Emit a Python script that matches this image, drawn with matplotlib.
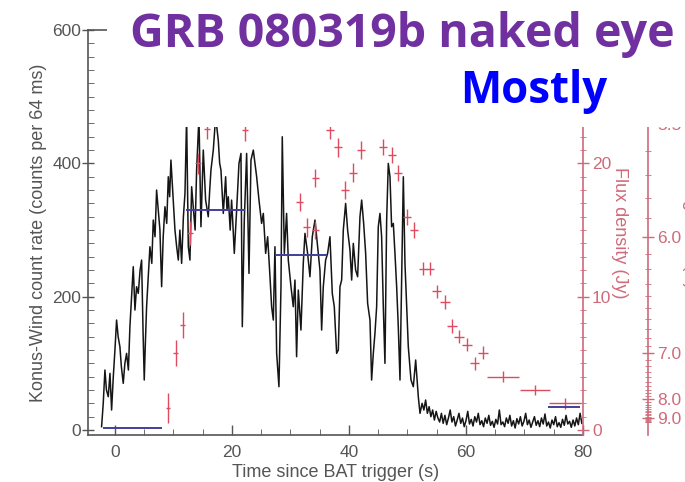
import matplotlib.pyplot as plt
from matplotlib.patches import Rectangle
from matplotlib.ticker import MultipleLocator, FixedLocator
import numpy as np

# Konus-Wind gamma-ray light curve: time since trigger (s), counts per 64 ms
kw_time = [
    -2.28, -2.0, -1.71, -1.45, -1.14, -0.85, -0.57, -0.28, 0.0, 0.28, 0.55, 0.85,
    1.1, 1.42, 1.7, 1.99, 2.3, 2.56, 2.85, 3.13, 3.42, 3.7, 3.99, 4.3, 4.56, 4.8,
    5.01, 5.2, 5.41, 5.7, 5.98, 6.3, 6.55, 6.85, 7.12, 7.4, 7.69, 7.98, 8.25, 8.55,
    8.85, 9.12, 9.35, 9.57, 9.8, 9.97,
    10.26, 10.55, 10.83, 11.1, 11.4, 11.7, 11.97, 12.25, 12.54, 12.82, 13.11, 13.39,
    13.7, 13.96, 14.36, 14.7, 15.1, 15.5, 15.95, 16.2, 16.41, 16.81, 17.21, 17.66,
    17.9, 18.12, 18.52, 18.92, 19.15, 19.37, 19.7, 19.94, 20.15, 20.4, 20.8, 21.2,
    21.54, 21.77, 22.11, 22.51, 22.91, 23.25, 23.65,
    23.93, 24.22, 24.62, 25.07, 25.36, 25.76, 26.1, 26.5, 26.78, 27.07, 27.35, 27.64,
    28.03, 28.38, 28.6, 28.95, 29.34, 29.63, 30.09, 30.48, 30.77, 31.05, 31.34, 31.79,
    32.19, 32.48, 32.93, 33.33, 33.73, 34.19, 34.64, 35.04, 35.33, 35.61, 36.01, 36.35,
    36.75, 37.15, 37.49,
    37.89, 38.18, 38.46, 38.75, 39.03, 39.43, 39.77, 40.17, 40.46, 40.74, 41.14, 41.48,
    41.88, 42.17, 42.51, 42.85, 43.19, 43.59, 43.87, 44.16, 44.44, 44.73, 45.01, 45.3,
    45.58, 45.87, 46.15, 46.44, 46.72, 47.01, 47.29, 47.58, 47.86, 48.15, 48.43, 48.72,
    49.0, 49.29, 49.57, 49.86, 50.14, 50.6, 51.0, 51.4, 51.85, 52.14,
    52.5, 52.8, 53.1, 53.4, 53.7, 54.0, 54.3, 54.6, 54.9, 55.2, 55.5, 55.8, 56.1, 56.4,
    56.7, 57.0, 57.3, 57.6, 57.9, 58.2, 58.5, 58.8, 59.1, 59.4, 59.7, 60.0, 60.3, 60.6,
    60.9, 61.2, 61.5, 61.8, 62.1, 62.4, 62.7, 63.0, 63.3, 63.6, 63.9, 64.2, 64.5, 64.8,
    65.1, 65.4, 65.7, 66.0, 66.3, 66.6, 66.9, 67.2, 67.5, 67.8, 68.1, 68.4, 68.7, 69.0,
    69.3, 69.6, 69.9, 70.2, 70.5, 70.8, 71.1, 71.4, 71.7, 72.0, 72.3, 72.6, 72.9, 73.2,
    73.5, 73.8, 74.1, 74.4, 74.7, 75.0, 75.3, 75.6, 75.9, 76.2, 76.5, 76.8, 77.1, 77.4,
    77.7, 78.0, 78.3, 78.6, 78.9, 79.2, 79.5, 79.8,
]
kw_counts = [
    5, 40, 90, 60, 50, 85, 30, 80, 120, 165, 140, 125,
    95, 70, 100, 115, 90, 155, 200, 245, 180, 215, 205, 240, 255, 150,
    75, 130, 185, 230, 275, 250, 315, 290, 360, 330, 300, 215, 290, 335,
    310, 380, 350, 405, 370, 345,
    300, 275, 255, 300, 250, 320, 355, 470, 275, 255, 365, 335,
    300, 390, 470, 305, 420, 345, 320, 360, 390, 420, 470, 435,
    400, 390, 325, 380, 330, 350, 300, 345, 310, 265, 330, 400,
    415, 155, 315, 415, 235, 405, 420,
    400, 380, 345, 310, 325, 265, 290, 230, 185, 165, 275, 115,
    65, 215, 440, 265, 325, 255, 215, 185, 225, 110, 210, 150,
    250, 295, 265, 230, 290, 315, 275, 240, 150, 215, 255, 265,
    290, 205, 185,
    115, 120, 215, 225, 300, 340, 300, 270, 225, 280, 240, 230,
    320, 345, 310, 265, 190, 165, 75, 115, 145, 185, 305, 325,
    290, 185, 100, 315, 400, 380, 305, 310, 265, 215, 155, 75,
    225, 380, 250, 185, 125, 75, 65, 105, 50, 25,
    40, 30, 45, 25, 35, 20, 30, 15, 28, 18, 12, 25, 10, 22,
    8, 18, 30, 12, 20, 6, 15, 25, 10, 18, 5, 14, 28, 9,
    16, 6, 20, 12, 25, 8, 14, 5, 18, 10, 22, 7, 13, 4,
    16, 9, 30, 8, 12, 5, 18, 10, 22, 6, 14, 3, 17, 9,
    20, 6, 13, 25, 8, 15, 4, 12, 20, 7, 14, 5, 18, 9,
    24, 6, 12, 3, 15, 8, 20, 5, 11, 4, 16, 7, 22, 9,
    13, 4, 15, 6, 18, 8, 25, 10,
]

# TORTORA optical points: time (s), flux density (Jy) and error bars
tort_time = [9.06, 10.4, 11.6, 12.8, 14.2, 15.7, 22.2, 31.6, 32.8, 34.2, 34.2,
             36.8, 38.1, 39.3, 40.7, 42.1, 45.8, 47.4, 48.4, 49.9, 51.1, 52.6,
             53.8, 55.0, 56.4, 57.6, 58.8, 60.2, 61.5, 62.9, 66.3, 71.8, 76.9]
tort_flux = [1.65, 5.77, 7.87, 14.8, 20.0, 22.6, 22.5, 17.1, 15.2, 15.0, 18.9,
             22.5, 21.2, 18.0, 19.3, 21.0, 21.2, 20.6, 19.3, 16.0, 15.0, 12.1,
             12.1, 10.4, 9.6, 7.8, 7.0, 6.4, 5.0, 5.8, 4.0, 3.0, 2.0]
tort_terr = [0.4, 0.4, 0.4, 0.5, 0.5, 0.5, 0.5, 0.6, 0.6, 0.6, 0.6,
             0.7, 0.7, 0.7, 0.7, 0.7, 0.7, 0.7, 0.7, 0.7, 0.7, 0.7,
             0.7, 0.8, 0.8, 0.8, 0.8, 0.8, 0.8, 0.8, 2.7, 2.6, 2.7]
tort_ferr = [1.1, 1.0, 1.0, 0.9, 0.8, 0.8, 0.8, 0.7, 0.7, 0.7, 0.7,
             0.7, 0.7, 0.7, 0.7, 0.7, 0.6, 0.6, 0.6, 0.6, 0.6, 0.5,
             0.5, 0.5, 0.5, 0.5, 0.5, 0.5, 0.5, 0.5, 0.4, 0.4, 0.4]

# Pi of the Sky exposures: mid time (s), half exposure (s), flux (Jy)
pi_time = [3.0, 17.2, 31.8, 76.8]
pi_half = [5.0, 5.05, 4.45, 2.7]
pi_flux = [0.15, 16.5, 13.1, 1.7]

# V magnitude scale on the outer axis
mag_labels = [5.5, 6.0, 7.0, 8.0, 9.0]
F0_V = 3640.0


def mag_to_flux(m):
    return F0_V * 10 ** (-0.4 * np.asarray(m))


grey = '#555555'
pink = '#cf6a7a'

plt.rcParams['font.family'] = ['Liberation Sans', 'DejaVu Sans']

fig = plt.figure(figsize=(6.85, 4.82), dpi=100)
ax = fig.add_axes([0.1285, 0.0975, 0.7226, 0.840])

ax.plot(kw_time, kw_counts, color='#151515', lw=1.1, zorder=3)
ax.set_xlim(-4.6, 80)
ax.set_ylim(-7.5, 600)
ax.set_xticks([0, 20, 40, 60, 80])
ax.set_yticks([0, 200, 400, 600])
ax.xaxis.set_minor_locator(MultipleLocator(5))
ax.yaxis.set_minor_locator(MultipleLocator(20))
ax.tick_params(axis='y', which='major', direction='inout', length=8, width=1,
               color=grey, labelcolor=grey, labelsize=12.5, pad=1)
ax.tick_params(axis='y', which='minor', direction='in', length=4, color=grey)
ax.tick_params(axis='x', which='major', direction='in', length=7, width=1,
               color=grey, labelcolor=grey, labelsize=12.5, pad=7)
ax.tick_params(axis='x', which='minor', direction='in', length=4, color=grey)
for side in ['left', 'bottom', 'top']:
    ax.spines[side].set_color(grey)
    ax.spines[side].set_linewidth(1.2)
ax.spines['right'].set_visible(False)
ax.set_xlabel('Time since BAT trigger (s)', color=grey, fontsize=13, labelpad=3)
ax.set_ylabel('Konus-Wind count rate (counts per 64 ms)', color=grey,
              fontsize=13, labelpad=4)

# flux density axis
axf = ax.twinx()
axf.set_ylim(-0.37, 30)
axf.errorbar(tort_time, tort_flux, xerr=tort_terr, yerr=tort_ferr, fmt='none',
             ecolor='#e04a5e', elinewidth=1.0, capsize=0, zorder=4)
axf.errorbar(pi_time, pi_flux, xerr=pi_half, fmt='none', ecolor='#40409a',
             elinewidth=1.4, capsize=0, zorder=4)
axf.set_yticks([0, 10, 20])
axf.yaxis.set_minor_locator(MultipleLocator(1))
axf.tick_params(axis='y', which='major', direction='inout', length=9, width=1,
                color=pink, labelcolor=pink, labelsize=12.5, pad=2)
axf.tick_params(axis='y', which='minor', direction='inout', length=4, color=pink)
axf.spines['right'].set_color(pink)
axf.spines['right'].set_linewidth(1.2)
for side in ['left', 'top', 'bottom']:
    axf.spines[side].set_visible(False)
axf.set_ylabel('Flux density (Jy)', color=pink, fontsize=13, rotation=270,
               labelpad=12)

# outer magnitude axis, 65 px to the right of the flux axis
axm = ax.twinx()
axm.set_ylim(-0.37, 30)
axm.spines['right'].set_position(('outward', 65 * 72 / 100))
axm.spines['right'].set_color(pink)
axm.spines['right'].set_linewidth(1.2)
for side in ['left', 'top', 'bottom']:
    axm.spines[side].set_visible(False)
axm.yaxis.set_major_locator(FixedLocator(mag_to_flux(mag_labels)))
axm.set_yticklabels([f'{m:.1f}' for m in mag_labels])
axm.yaxis.set_minor_locator(FixedLocator(mag_to_flux(np.arange(5.5, 9.55, 0.1))))
axm.tick_params(axis='y', which='major', direction='inout', length=9, width=1,
                color=pink, labelcolor=pink, labelsize=12.5, pad=2)
axm.tick_params(axis='y', which='minor', direction='inout', length=4, color=pink)
fig.text(690 / 685, 0.52, 'Magnitude (V)', color=pink, fontsize=13, rotation=270,
         ha='center', va='center')

# blank band behind the headline
fig.patches.append(Rectangle((107 / 685, 355 / 482), 1.0, 1.0, transform=fig.transFigure,
                             facecolor='white', edgecolor='none', zorder=10))

fig.text(130 / 685, 435 / 482, 'GRB 080319b naked eye', color='#7030a0',
         fontsize=33.5, fontweight='bold', family='Open Sans', va='baseline',
         zorder=11)
fig.text(460 / 685, 379 / 482, 'Mostly', color='#0000ff', fontsize=31.5,
         fontweight='bold', family='Open Sans', va='baseline', zorder=11)

fig.savefig('out.png', dpi=100)
